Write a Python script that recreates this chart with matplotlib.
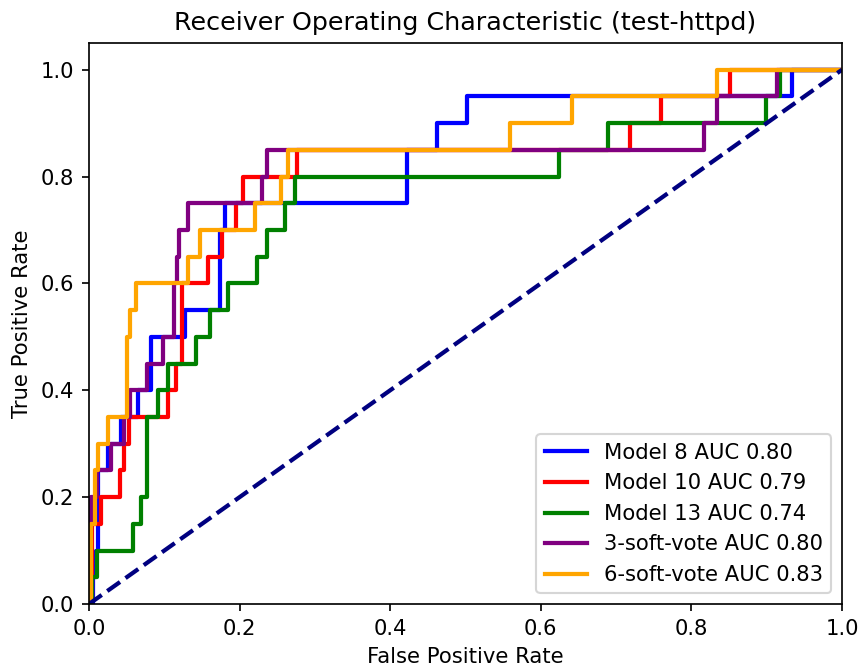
import matplotlib
matplotlib.use("Agg")
import matplotlib.pyplot as plt

# ROC points: at each fpr the tpr steps up to the listed value
fpr_m8 = [0, 0.005, 0.009, 0.012, 0.025, 0.043, 0.065, 0.083, 0.127, 0.174, 0.180,
          0.422, 0.462, 0.502, 0.934, 1.0]
tpr_m8 = [0, 0.05, 0.10, 0.25, 0.30, 0.35, 0.40, 0.50, 0.55, 0.70, 0.75,
          0.85, 0.90, 0.95, 1.0, 1.0]

fpr_m10 = [0, 0.004, 0.016, 0.041, 0.046, 0.053, 0.105, 0.116, 0.124, 0.158, 0.177,
           0.195, 0.204, 0.276, 0.718, 0.759, 0.851, 1.0]
tpr_m10 = [0, 0.15, 0.20, 0.25, 0.30, 0.35, 0.40, 0.45, 0.60, 0.65, 0.70,
           0.75, 0.80, 0.85, 0.90, 0.95, 1.0, 1.0]

fpr_m13 = [0, 0.004, 0.011, 0.058, 0.069, 0.077, 0.092, 0.105, 0.142, 0.161, 0.185,
           0.223, 0.236, 0.260, 0.274, 0.624, 0.689, 0.899, 0.918, 1.0]
tpr_m13 = [0, 0.05, 0.10, 0.15, 0.20, 0.35, 0.40, 0.45, 0.50, 0.55, 0.60,
           0.65, 0.70, 0.75, 0.80, 0.85, 0.90, 0.95, 1.0, 1.0]

fpr_sv3 = [0, 0.002, 0.010, 0.029, 0.046, 0.054, 0.077, 0.098, 0.113, 0.117, 0.120,
           0.131, 0.230, 0.236, 0.817, 0.834, 0.914, 1.0]
tpr_sv3 = [0, 0.20, 0.25, 0.30, 0.35, 0.40, 0.45, 0.50, 0.60, 0.65, 0.70,
           0.75, 0.80, 0.85, 0.90, 0.95, 1.0, 1.0]

fpr_sv6 = [0, 0.003, 0.008, 0.012, 0.025, 0.051, 0.054, 0.063, 0.131, 0.147, 0.220,
           0.255, 0.264, 0.559, 0.641, 0.834, 1.0]
tpr_sv6 = [0, 0.15, 0.25, 0.30, 0.35, 0.50, 0.55, 0.60, 0.65, 0.70, 0.75,
           0.80, 0.85, 0.90, 0.95, 1.0, 1.0]

curves = [
    (fpr_m8, tpr_m8, 'blue', 'Model 8 AUC 0.80'),
    (fpr_m10, tpr_m10, 'red', 'Model 10 AUC 0.79'),
    (fpr_m13, tpr_m13, 'green', 'Model 13 AUC 0.74'),
    (fpr_sv3, tpr_sv3, 'purple', '3-soft-vote AUC 0.80'),
    (fpr_sv6, tpr_sv6, 'orange', '6-soft-vote AUC 0.83'),
]

dpi = 152
fig = plt.figure(figsize=(863 / dpi, 671 / dpi), dpi=dpi)
ax = fig.add_axes([89 / 863, 1 - 604 / 671, (842 - 89) / 863, (604 - 43) / 671])

for fpr, tpr, color, label in curves:
    ax.step(fpr, tpr, where='post', color=color, lw=2, label=label)

ax.plot([0, 1], [0, 1], color='navy', lw=2, linestyle='--')
ax.set_xlim([0.0, 1.0])
ax.set_ylim([0.0, 1.05])
ax.set_xlabel('False Positive Rate')
ax.set_ylabel('True Positive Rate')
ax.set_title('Receiver Operating Characteristic (test-httpd)')
ax.legend(loc='lower right')

fig.savefig('out.png', dpi=dpi)
